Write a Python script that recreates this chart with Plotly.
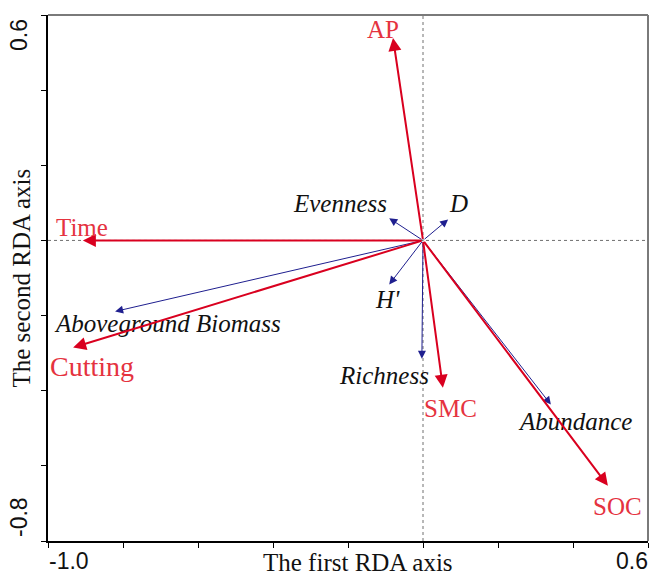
import plotly.graph_objects as go

# Environmental variables (red arrows)
env_names = ["AP", "Time", "Cutting", "SMC", "SOC"]
env_x = [-0.080, -0.907, -0.933, 0.053, 0.493]
env_y = [0.539, 0.000, -0.285, -0.392, -0.653]

# Community indices (blue arrows)
sp_names = ["Evenness", "D", "H'", "Richness", "Abundance", "Aboveground Biomass"]
sp_x = [-0.090, 0.067, -0.090, -0.003, 0.341, -0.821]
sp_y = [0.059, 0.056, -0.117, -0.315, -0.437, -0.189]

# Axis ranges / ticks
x_range = [-1.0, 0.6]
y_range = [-0.8, 0.6]
tick_vals = [-1.0, -0.8, -0.6, -0.4, -0.2, 0.0, 0.2, 0.4, 0.6]
x_title = "The first RDA axis"
y_title = "The second RDA axis"

# label offsets (pixels) relative to arrow tips -- style only
env_off = {"AP": (-10, 8), "Time": (-1, 13), "Cutting": (19, -19),
           "SMC": (8, -21), "SOC": (10, -21)}
env_size = {"AP": 25, "Time": 25, "Cutting": 28, "SMC": 25, "SOC": 25}
sp_off = {"Evenness": (-49, 15), "D": (10, 16), "H'": (-2, -15),
          "Richness": (-38, -17), "Abundance": (24, -17),
          "Aboveground Biomass": (52, -12)}

RED = "#d9001f"
RED_TXT = "#e5333f"
BLUE = "#1f1f8f"
SERIF = "Liberation Serif, Times New Roman, serif"
SANS = "Liberation Sans, Arial, sans-serif"

fig = go.Figure()
fig.add_trace(go.Scatter(x=[x_range[0], x_range[1]], y=[y_range[0], y_range[1]],
                         mode="markers", marker=dict(opacity=0), showlegend=False,
                         hoverinfo="skip"))

# reference dashed lines through origin
fig.add_shape(type="line", x0=x_range[0], x1=x_range[1], y0=0, y1=0,
              line=dict(color="#707070", width=1, dash="dot"), layer="below")
fig.add_shape(type="line", x0=0, x1=0, y0=y_range[0], y1=y_range[1],
              line=dict(color="#707070", width=1, dash="dot"), layer="below")

ann = []
for n, x, y in zip(sp_names, sp_x, sp_y):
    ann.append(dict(x=x, y=y, ax=0, ay=0, xref="x", yref="y", axref="x", ayref="y",
                    text="", showarrow=True, arrowhead=2, arrowsize=1.6,
                    arrowwidth=1, arrowcolor=BLUE, standoff=0))
    dx, dy = sp_off[n]
    label = "<i>%s</i>" % n
    ann.append(dict(x=x, y=y, xref="x", yref="y", text=label, showarrow=False,
                    xshift=dx, yshift=dy, font=dict(family=SERIF, size=25, color="#111111")))
for n, x, y in zip(env_names, env_x, env_y):
    ann.append(dict(x=x, y=y, ax=0, ay=0, xref="x", yref="y", axref="x", ayref="y",
                    text="", showarrow=True, arrowhead=2, arrowsize=1.3,
                    arrowwidth=2, arrowcolor=RED, standoff=0))
    dx, dy = env_off[n]
    ann.append(dict(x=x, y=y, xref="x", yref="y", text=n, showarrow=False,
                    xshift=dx, yshift=dy,
                    font=dict(family=SERIF, size=env_size[n], color=RED_TXT)))

# corner tick labels and axis titles
ann += [
    dict(x=0, y=0, xref="paper", yref="paper", text="%.1f" % x_range[0], showarrow=False,
         xanchor="left", yanchor="top", yshift=-5, xshift=-1,
         font=dict(family=SANS, size=23, color="#111")),
    dict(x=1, y=0, xref="paper", yref="paper", text="%.1f" % x_range[1], showarrow=False,
         xanchor="right", yanchor="top", yshift=-5, xshift=2,
         font=dict(family=SANS, size=23, color="#111")),
    dict(x=0, y=1, xref="paper", yref="paper", text="%.1f" % y_range[1], showarrow=False,
         xanchor="right", yanchor="top", xshift=-14, yshift=-2, textangle=-90,
         font=dict(family=SANS, size=23, color="#111")),
    dict(x=0, y=0, xref="paper", yref="paper", text="%.1f" % y_range[0], showarrow=False,
         xanchor="right", yanchor="bottom", xshift=-14, yshift=2, textangle=-90,
         font=dict(family=SANS, size=23, color="#111")),
    dict(x=0.517, y=0, xref="paper", yref="paper", text=x_title, showarrow=False,
         xanchor="center", yanchor="top", yshift=-6,
         font=dict(family=SERIF, size=25, color="#111")),
    dict(x=0, y=0.5, xref="paper", yref="paper", text=y_title, showarrow=False,
         xanchor="right", yanchor="middle", xshift=-12, textangle=-90,
         font=dict(family=SERIF, size=25, color="#111")),
]

# top and right frame lines (grey)
fig.add_shape(type="line", xref="paper", yref="paper", x0=0, x1=1, y0=1, y1=1,
              line=dict(color="#7a7a7a", width=2))
fig.add_shape(type="line", xref="paper", yref="paper", x0=1, x1=1, y0=0, y1=1,
              line=dict(color="#7a7a7a", width=2))

fig.update_layout(
    width=650, height=577,
    margin=dict(l=48, r=2, t=15, b=36),
    paper_bgcolor="white", plot_bgcolor="white",
    showlegend=False,
    annotations=ann,
    xaxis=dict(range=x_range, tickvals=tick_vals, showticklabels=False,
               ticks="outside", ticklen=5, tickcolor="black", tickwidth=1,
               showgrid=False, zeroline=False, showline=True, linecolor="black",
               linewidth=1.5),
    yaxis=dict(range=y_range, tickvals=tick_vals, showticklabels=False,
               ticks="outside", ticklen=5, tickcolor="black", tickwidth=1,
               showgrid=False, zeroline=False, showline=True, linecolor="black",
               linewidth=1.5),
)

fig.write_html("out.html", config={"displayModeBar": False},
               post_script="document.body.style.margin='0';document.body.style.padding='0';"
                           "document.body.style.overflow='hidden';")
